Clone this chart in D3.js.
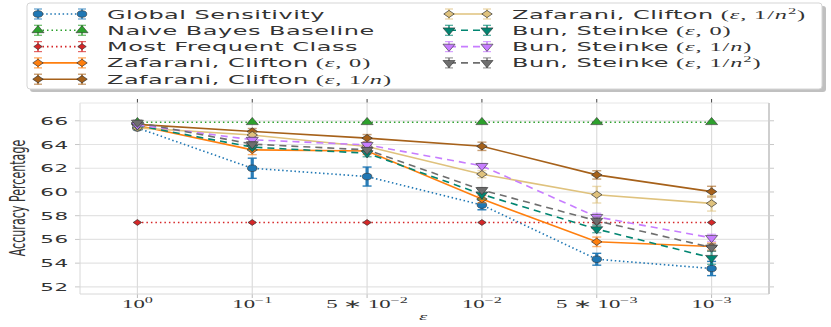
<!DOCTYPE html>
<html><head><meta charset="utf-8">
<script src="https://cdn.jsdelivr.net/npm/d3@7"></script>
<style>body{margin:0;background:#fff}</style>
</head><body><svg id="c" width="831" height="327"></svg>
<script>
// ---------- data ----------
const categories = ["1e0", "1e-1", "5e-2", "1e-2", "5e-3", "1e-3"];
const tickPrefix = ["", "", "5 \u2217 ", "", "5 \u2217 ", ""];
const tickExp = ["0", "\u22121", "\u22122", "\u22122", "\u22123", "\u22123"];
const yTicks = [52, 54, 56, 58, 60, 62, 64, 66];
const seriesNames = ["Global Sensitivity", "Naive Bayes Baseline", "Most Frequent Class",
  "Zafarani, Clifton", "Zafarani, Clifton", "Zafarani, Clifton",
  "Bun, Steinke", "Bun, Steinke", "Bun, Steinke"];
const seriesParams = ["", "", "", "0", "1/n", "1/n2", "0", "1/n", "1/n2"];

const globalSensitivity    = [65.4, 62.0, 61.3, 58.9, 54.33, 53.55];
const globalSensitivityErr = [0.15, 0.85, 0.8, 0.4, 0.5, 0.6];
const naiveBayes           = [65.88, 65.88, 65.88, 65.88, 65.88, 65.88];
const naiveBayesErr        = [0, 0, 0, 0, 0, 0];
const mostFrequent         = [57.43, 57.43, 57.43, 57.43, 57.43, 57.43];
const mostFrequentErr      = [0, 0, 0, 0, 0, 0];
const zcEps0               = [65.6, 63.55, 63.46, 59.4, 55.8, 55.4];
const zcEps0Err            = [0.1, 0.4, 0.3, 0.3, 0.4, 0.3];
const zcEps1n              = [65.7, 65.1, 64.54, 63.85, 61.44, 60.03];
const zcEps1nErr           = [0.1, 0.25, 0.3, 0.35, 0.35, 0.45];
const zcEps1n2             = [65.4, 64.8, 63.83, 61.5, 59.77, 59.04];
const zcEps1n2Err          = [0.15, 0.2, 0.2, 0.3, 0.7, 0.65];
const bsEps0               = [65.6, 63.78, 63.27, 59.8, 56.87, 54.45];
const bsEps0Err            = [0.1, 0.2, 0.3, 0.4, 0.3, 0.55];
const bsEps1n              = [65.65, 64.4, 63.97, 62.2, 57.9, 56.13];
const bsEps1nErr           = [0.1, 0.2, 0.2, 0.2, 0.3, 0.3];
const bsEps1n2             = [65.85, 64.03, 63.55, 60.17, 57.57, 55.32];
const bsEps1n2Err          = [0.2, 0.2, 0.2, 0.2, 0.3, 0.3];

const seriesValues = [globalSensitivity, naiveBayes, mostFrequent, zcEps0, zcEps1n, zcEps1n2, bsEps0, bsEps1n, bsEps1n2];
const seriesErrors = [globalSensitivityErr, naiveBayesErr, mostFrequentErr, zcEps0Err, zcEps1nErr, zcEps1n2Err, bsEps0Err, bsEps1nErr, bsEps1n2Err];

// ---------- styles ----------
const colors = ["#1f77b4", "#2ca02c", "#d62728", "#ff7f0e", "#a6611a", "#dfc27d", "#018571", "#c77dff", "#6e6e6e"];
const dashes = ["1.5,2.6", "1.5,3", "1.5,3", null, null, null, "7,5", "7,5", "7,5"];
const markers = ["circle", "triUp", "diamondS", "diamond", "diamond", "diamond", "triDown", "triDown", "triDown"];

const SX = 1.95; // horizontal stretch of the picture
const LEGEND_FS = 12.3;
const LEGEND_REF_WIDTH = 218; // drawn width of the first legend label
const svg = d3.select("#c");
const L = 80, R = 769, T = 103, B = 294;

const x = d3.scalePoint().domain(categories).range([L, R]).padding(0.5);
const y = d3.scaleLinear().domain([51.4, 67.5]).range([B, T]);

// grid
const g = svg.append("g");
g.selectAll(".gy").data(yTicks).join("line")
  .attr("x1", L).attr("x2", R).attr("y1", d => y(d)).attr("y2", d => y(d))
  .attr("stroke", "#e3e3e3").attr("stroke-width", 1.2);
g.selectAll(".gx").data(categories).join("line")
  .attr("x1", d => x(d)).attr("x2", d => x(d)).attr("y1", T).attr("y2", B)
  .attr("stroke", "#dcdcdc").attr("stroke-width", 1.2);
// ticks
g.selectAll(".tl").data(yTicks).join("line")
  .attr("x1", L - 5).attr("x2", L).attr("y1", d => y(d)).attr("y2", d => y(d)).attr("stroke", "#c8c8c8");
g.selectAll(".tr").data(yTicks).join("line")
  .attr("x1", R).attr("x2", R + 5).attr("y1", d => y(d)).attr("y2", d => y(d)).attr("stroke", "#c8c8c8");
g.selectAll(".tt").data(categories).join("line")
  .attr("x1", d => x(d)).attr("x2", d => x(d)).attr("y1", T - 4).attr("y2", T).attr("stroke", "#444");
g.selectAll(".tb").data(categories).join("line")
  .attr("x1", d => x(d)).attr("x2", d => x(d)).attr("y1", B).attr("y2", B + 4).attr("stroke", "#bbb");
// frame
g.append("line").attr("x1", L).attr("x2", L).attr("y1", T).attr("y2", B).attr("stroke", "#d8d8d8");
g.append("line").attr("x1", L).attr("x2", R).attr("y1", T).attr("y2", T).attr("stroke", "#e6e6e6");
g.append("line").attr("x1", L).attr("x2", R).attr("y1", B).attr("y2", B).attr("stroke", "#d8d8d8");
g.append("line").attr("x1", R).attr("x2", R).attr("y1", T).attr("y2", B).attr("stroke", "#cfcfcf").attr("stroke-width", 2);

// y tick labels
g.selectAll(".yl").data(yTicks).join("text")
  .attr("transform", d => `translate(69,${y(d) + 4}) scale(${SX},1)`)
  .attr("text-anchor", "end").attr("font-family", "DejaVu Sans").attr("font-size", 11)
  .attr("letter-spacing", 0.4)
  .attr("fill", "#333").text(d => d);

// x tick labels
categories.forEach((c, i) => {
  const t = g.append("text")
    .attr("transform", `translate(${x(c)},308.3) scale(1.9,1)`)
    .attr("text-anchor", "middle").attr("font-family", "Liberation Serif").attr("font-size", 12)
    .attr("fill", "#333");
  t.append("tspan").text(tickPrefix[i] + "10");
  t.append("tspan").attr("dy", -5.5).attr("font-size", 8.5).text(tickExp[i]);
});
// axis labels
g.append("text").attr("transform", `translate(423,320) scale(1.9,1)`)
  .attr("text-anchor", "middle").attr("font-family", "Liberation Serif").attr("font-style", "italic")
  .attr("font-size", 11).attr("fill", "#333").text("\u03b5");
g.append("text").attr("transform", `translate(25,198) scale(${SX},1) rotate(-90)`)
  .attr("text-anchor", "middle").attr("font-family", "DejaVu Sans").attr("font-size", 11.1)
  .attr("fill", "#333").text("Accuracy Percentage");

// marker helper
function markerPath(kind) {
  if (kind === "circle") return d3.symbol(d3.symbolCircle, 34)();
  if (kind === "triUp") return d3.symbol(d3.symbolTriangle, 30)();
  if (kind === "triDown") return d3.symbol(d3.symbolTriangle, 30)();
  if (kind === "diamond") return d3.symbol(d3.symbolSquare, 26)();
  if (kind === "diamondS") return d3.symbol(d3.symbolSquare, 17)();
}
function markerTransform(kind, px, py) {
  let t = `translate(${px},${py}) scale(1.45,1)`;
  if (kind === "triDown") t += " rotate(180)";
  if (kind === "diamond" || kind === "diamondS") t += " rotate(45)";
  return t;
}

// series
const plot = svg.append("g");
seriesValues.forEach((vals, s) => {
  const errs = seriesErrors[s];
  const col = colors[s];
  const sg = plot.append("g");
  const line = d3.line().x((d, i) => x(categories[i])).y(d => y(d));
  sg.append("path").attr("d", line(vals)).attr("fill", "none").attr("stroke", col)
    .attr("stroke-width", 1.6).attr("stroke-dasharray", dashes[s]);
  vals.forEach((v, i) => {
    const e = errs[i];
    if (e > 0) {
      const px = x(categories[i]);
      const op = s === 0 ? 0.95 : 0.6;
      sg.append("line").attr("x1", px).attr("x2", px).attr("y1", y(v - e)).attr("y2", y(v + e))
        .attr("stroke", col).attr("stroke-width", s === 0 ? 3.2 : 2.4).attr("opacity", op);
      [v - e, v + e].forEach(cv => sg.append("line").attr("x1", px - 4.5).attr("x2", px + 4.5)
        .attr("y1", y(cv)).attr("y2", y(cv)).attr("stroke", col).attr("stroke-width", 1.4).attr("opacity", op));
    }
  });
  sg.selectAll(".m").data(vals).join("path")
    .attr("d", markerPath(markers[s]))
    .attr("transform", (d, i) => markerTransform(markers[s], x(categories[i]), y(d)))
    .attr("fill", col).attr("stroke", "#333").attr("stroke-width", 0.5);
});

// legend
const lg = svg.append("g");
lg.append("rect").attr("x", 30).attr("y", 6).attr("width", 796).attr("height", 86).attr("rx", 3)
  .attr("fill", "#b0b0b0").attr("opacity", 0.8);
lg.append("rect").attr("x", 27).attr("y", 3).attr("width", 795).attr("height", 86).attr("rx", 3)
  .attr("fill", "#fff").attr("stroke", "#d5d5d5").attr("stroke-width", 1);

// calibrate letter spacing from the first label
const probe = lg.append("text").attr("font-family", "DejaVu Sans").attr("font-size", LEGEND_FS).text(seriesNames[0]);
const w0 = probe.node().getComputedTextLength();
probe.remove();
const nChars = seriesNames[0].length;
const LS = Math.max(0, (LEGEND_REF_WIDTH / SX - w0) / nChars);

function drawParam(textSel, p) {
  if (!p) return;
  const f = "Liberation Serif";
  const sp = (txt) => textSel.append("tspan").attr("font-family", f).attr("font-size", 12.5)
    .attr("letter-spacing", 0.45).text(txt);
  sp(" (");
  sp("\u03b5").attr("font-style", "italic");
  sp(", ");
  if (p === "0") {
    sp("0");
  } else {
    sp("1/");
    sp("n").attr("font-style", "italic");
    if (p.endsWith("2")) sp("2").attr("font-size", 8.5).attr("dy", -5);
  }
  const last = sp(")");
  if (p.endsWith("2")) last.attr("dy", 5);
}

seriesNames.forEach((name, s) => {
  const col = s < 5 ? 0 : 1;
  const row = s < 5 ? s : s - 5;
  const hx0 = col === 0 ? 38 : 449;
  const hx1 = col === 0 ? 82 : 487;
  const tx = col === 0 ? 107 : 512;
  const cy = 14 + row * 16.3;
  lg.append("line").attr("x1", hx0).attr("x2", hx1).attr("y1", cy).attr("y2", cy)
    .attr("stroke", colors[s]).attr("stroke-width", 1.6).attr("stroke-dasharray", dashes[s]);
  [hx0, hx1].forEach(hx => {
    lg.append("line").attr("x1", hx).attr("x2", hx).attr("y1", cy - 5).attr("y2", cy + 5)
      .attr("stroke", colors[s]).attr("stroke-width", 2).attr("opacity", 0.7);
    [cy - 5, cy + 5].forEach(cv => lg.append("line").attr("x1", hx - 4).attr("x2", hx + 4)
      .attr("y1", cv).attr("y2", cv).attr("stroke", colors[s]).attr("stroke-width", 1.2).attr("opacity", 0.7));
    lg.append("path").attr("d", markerPath(markers[s]))
      .attr("transform", markerTransform(markers[s], hx, cy))
      .attr("fill", colors[s]).attr("stroke", "#333").attr("stroke-width", 0.5);
  });
  const t = lg.append("text").attr("transform", `translate(${tx},${cy + 4.5}) scale(${SX},1)`)
    .attr("font-family", "DejaVu Sans").attr("font-size", LEGEND_FS).attr("fill", "#333");
  t.append("tspan").attr("letter-spacing", LS).text(name);
  drawParam(t, seriesParams[s]);
});
</script></body></html>
